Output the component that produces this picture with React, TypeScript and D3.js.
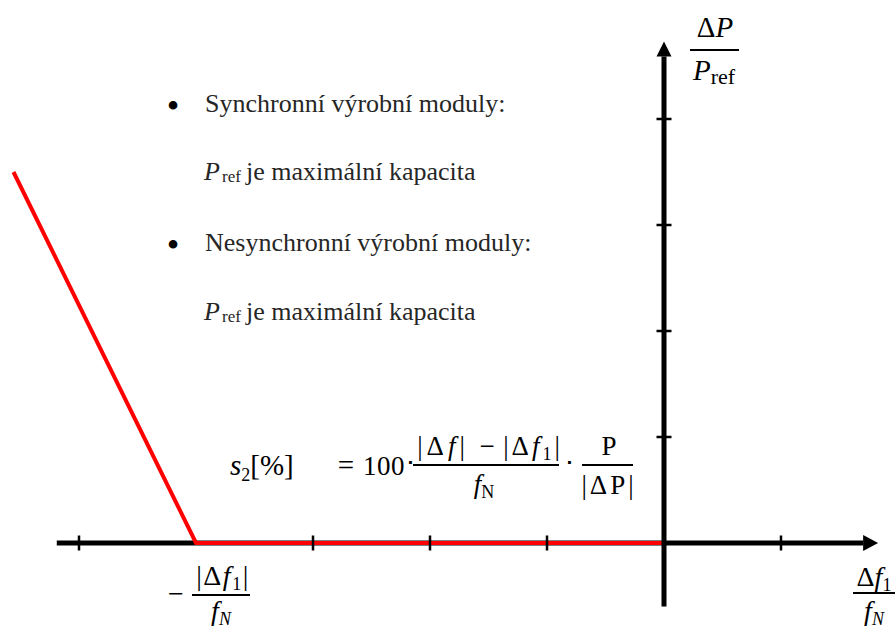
import React, { useEffect, useRef } from "react";
import * as d3 from "d3";

// droop characteristic in tick units (x: Δf/fN, y: ΔP/Pref)
const droopX = [-5.56, -4, 0];
const droopY = [3.5, 0, 0];
const xTicks = [-5, -3, -2, -1, 1];
const yTicks = [1, 2, 3, 4];
const xExtent = [-5.19, 1.83];
const yExtent = [-0.6, 4.73];
const notes = ["Synchronní výrobní moduly:", "Nesynchronní výrobní moduly:"];
const noteSub = "je maximální kapacita";

const serif = "'Liberation Serif', 'Times New Roman', serif";

type Part = { t: string; italic?: boolean; size?: number; dy?: number };

function App() {
  const svgRef = useRef<SVGSVGElement>(null);

  useEffect(() => {
    const width = 896;
    const height = 630;
    const svg = d3.select(svgRef.current).attr("width", width).attr("height", height);
    svg.selectAll("*").remove();

    const x = d3.scaleLinear().domain([-6, 2]).range([664 - 6 * 117, 664 + 2 * 117]);
    const y = d3.scaleLinear().domain([0, 4]).range([543, 543 - 4 * 106]);
    const arrow = 15;

    const label = (lx: number, ly: number, size: number, anchor: string, parts: Part[], fill = "#000", ls = 0) => {
      const t = svg
        .append("text")
        .attr("x", lx)
        .attr("y", ly)
        .attr("font-size", size)
        .attr("text-anchor", anchor)
        .attr("font-family", serif)
        .attr("letter-spacing", ls || null)
        .attr("fill", fill);
      parts.forEach((p) => {
        t.append("tspan")
          .text(p.t)
          .attr("font-style", p.italic ? "italic" : null)
          .attr("font-size", p.size ?? null)
          .attr("dy", p.dy ?? null);
      });
      return t;
    };
    const bar = (x1: number, x2: number, by: number) =>
      svg.append("line").attr("x1", x1).attr("x2", x2).attr("y1", by).attr("y2", by)
        .attr("stroke", "#000").attr("stroke-width", 2);

    // x axis
    svg.append("line")
      .attr("x1", x(xExtent[0])).attr("x2", x(xExtent[1]) - arrow)
      .attr("y1", y(0)).attr("y2", y(0))
      .attr("stroke", "#000").attr("stroke-width", 5);
    svg.append("path")
      .attr("d", `M${x(xExtent[1])},${y(0)}l${-arrow},-8v16z`)
      .attr("fill", "#000");

    // droop line
    const line = d3.line<number>().x((d) => x(d)).y((d, i) => y(droopY[i]));
    svg.append("path")
      .datum(droopX)
      .attr("d", line)
      .attr("fill", "none")
      .attr("stroke", "#ff0000")
      .attr("stroke-width", 4)
      .attr("stroke-linejoin", "miter");

    // y axis
    svg.append("line")
      .attr("x1", x(0)).attr("x2", x(0))
      .attr("y1", y(yExtent[0])).attr("y2", y(yExtent[1]) + arrow)
      .attr("stroke", "#000").attr("stroke-width", 5);
    svg.append("path")
      .attr("d", `M${x(0)},${y(yExtent[1])}l-7.5,${arrow}h15z`)
      .attr("fill", "#000");

    // ticks
    svg.selectAll(".xtick").data(xTicks).join("line")
      .attr("class", "xtick")
      .attr("x1", (d) => x(d)).attr("x2", (d) => x(d))
      .attr("y1", y(0) - 7.5).attr("y2", y(0) + 7.5)
      .attr("stroke", "#000").attr("stroke-width", 2.5);
    svg.selectAll(".ytick").data(yTicks).join("line")
      .attr("class", "ytick")
      .attr("x1", x(0) - 7.5).attr("x2", x(0) + 7.5)
      .attr("y1", (d) => y(d)).attr("y2", (d) => y(d))
      .attr("stroke", "#000").attr("stroke-width", 2.5);

    // axis labels
    label(715, 37, 29, "middle", [{ t: "Δ" }, { t: "P", italic: true }]);
    bar(690, 739, 50);
    label(714, 80, 29, "middle", [{ t: "P", italic: true }, { t: "ref", size: 22, dy: 4 }]);

    label(874, 586, 28, "middle", [{ t: "Δ" }, { t: "f", italic: true }, { t: "1", size: 18, dy: 5 }]);
    bar(853, 895, 593);
    label(874, 620, 28, "middle", [{ t: "f", italic: true }, { t: "N", italic: true, size: 18, dy: 5 }]);

    label(176, 603, 28, "middle", [{ t: "−" }]);
    label(223, 585, 28, "middle", [{ t: "|Δ" }, { t: "f", italic: true }, { t: "1", size: 18, dy: 5 }, { t: "|", dy: -5 }], "#000", 1.5);
    bar(192, 250, 595);
    label(221, 620, 28, "middle", [{ t: "f", italic: true }, { t: "N", italic: true, size: 18, dy: 5 }]);

    // notes
    const fillNote = "#262626";
    const noteY = [112, 251];
    const subY = [180, 320];
    notes.forEach((n, i) => {
      label(173, noteY[i] + 6, 36, "middle", [{ t: "•" }], "#000");
      label(205, noteY[i], 26, "start", [{ t: n }], fillNote);
      label(204, subY[i], 26, "start", [{ t: "P", italic: true }], fillNote);
      label(222, subY[i] + 2, 17, "start", [{ t: "ref" }], fillNote);
      label(246, subY[i], 26, "start", [{ t: noteSub }], fillNote);
    });

    // formula
    label(230, 475, 29, "start", [{ t: "s", italic: true }, { t: "2", size: 18, dy: 6 }, { t: "[%]", dy: -6 }]);
    label(346, 475, 29, "middle", [{ t: "=" }]);
    label(384, 475, 27, "middle", [{ t: "100" }], "#000", 0.5);
    label(410, 472, 28, "middle", [{ t: "⋅" }]);
    label(443, 455, 27, "middle", [{ t: "|Δ" }, { t: "f", italic: true }, { t: "|" }], "#000", 4);
    label(487, 455, 27, "middle", [{ t: "−" }]);
    label(533, 455, 27, "middle", [{ t: "|Δ" }, { t: "f", italic: true }, { t: "1", size: 18, dy: 5 }, { t: "|", dy: -5 }], "#000", 3);
    bar(413, 559, 465);
    label(484, 493, 27, "middle", [{ t: "f", italic: true }, { t: "N", size: 18, dy: 5 }]);
    label(569, 472, 28, "middle", [{ t: "⋅" }]);
    label(609, 455, 27, "middle", [{ t: "P" }]);
    bar(582, 633, 465);
    label(609, 494, 27, "middle", [{ t: "|ΔP|" }], "#000", 3);
  }, []);

  return <svg ref={svgRef} style={{ position: "absolute", left: 0, top: 0 }}></svg>;
}

export default App;
